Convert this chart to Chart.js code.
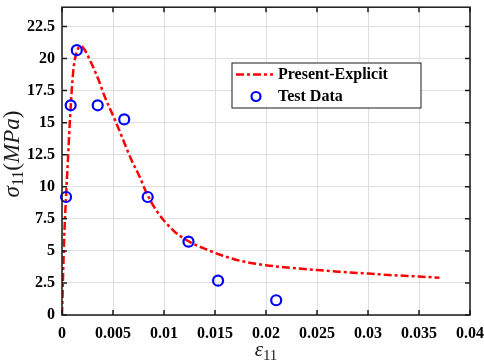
<!DOCTYPE html>
<html>
<head>
<meta charset="utf-8">
<script src="https://cdn.jsdelivr.net/npm/chart.js@4.4.0/dist/chart.umd.min.js"></script>
<style>
  html, body { margin: 0; padding: 0; background: #fff; }
  #wrap { width: 484px; height: 362px; }
</style>
</head>
<body>
<div id="wrap"><canvas id="stressChart"></canvas></div>
<script>
// Present-Explicit model curve (strain, stress in MPa)
const modelStrain = [0, 0.0001, 0.0002, 0.0004, 0.0006, 0.0008, 0.0011, 0.0014, 0.0017, 0.0019,
  0.0022, 0.0026, 0.0031, 0.0036, 0.0042, 0.0052, 0.006, 0.0068, 0.0076, 0.0083,
  0.0093, 0.0109, 0.0124, 0.0142, 0.0158, 0.0176, 0.02, 0.0225, 0.025, 0.0275,
  0.03, 0.0325, 0.035, 0.037];
const modelStress = [0, 2.9, 5.7, 9.3, 12.4, 15.5, 19.0, 20.4, 20.9, 20.95,
  20.7, 20.1, 19.25, 18.3, 17.0, 15.2, 13.65, 12.1, 10.8, 9.5,
  8.1, 6.6, 5.75, 5.1, 4.62, 4.2, 3.88, 3.67, 3.5, 3.36,
  3.23, 3.1, 3.0, 2.9];

// Test data
const testStrain = [0.0004, 0.00085, 0.00145, 0.0035, 0.0061, 0.0084, 0.0124, 0.0153, 0.021];
const testStress = [9.2, 16.35, 20.65, 16.35, 15.25, 9.2, 5.72, 2.68, 1.15];

const xTicks = [0, 0.005, 0.01, 0.015, 0.02, 0.025, 0.03, 0.035, 0.04];
const yTicks = [0, 2.5, 5, 7.5, 10, 12.5, 15, 17.5, 20, 22.5];

const seriesLabels = ["Present-Explicit", "Test Data"];

const serif = "'Liberation Serif', 'Times New Roman', serif";
const tickFont = { family: serif, size: 16, weight: "bold" };

function fmt(v) {
  return String(+v.toFixed(4));
}

// box around the plot with inward tick marks on all four sides
const framePlugin = {
  id: "frame",
  afterDatasetsDraw(chart) {
    const { ctx, chartArea: a, scales } = chart;
    ctx.save();
    ctx.strokeStyle = "#1a1a1a";
    ctx.lineWidth = 1.5;
    ctx.strokeRect(a.left, a.top, a.right - a.left, a.bottom - a.top);
    ctx.beginPath();
    const len = 5;
    xTicks.forEach((v) => {
      const px = scales.x.getPixelForValue(v);
      ctx.moveTo(px, a.bottom); ctx.lineTo(px, a.bottom - len);
      ctx.moveTo(px, a.top); ctx.lineTo(px, a.top + len);
    });
    yTicks.forEach((v) => {
      const py = scales.y.getPixelForValue(v);
      ctx.moveTo(a.left, py); ctx.lineTo(a.left + len, py);
      ctx.moveTo(a.right, py); ctx.lineTo(a.right - len, py);
    });
    ctx.stroke();
    ctx.restore();
  },
};

// axis titles with subscripts and the boxed legend
const labelPlugin = {
  id: "labels",
  afterDraw(chart) {
    const { ctx, chartArea: a } = chart;
    ctx.save();
    ctx.fillStyle = "#1a1a1a";
    ctx.textBaseline = "alphabetic";

    // x title: epsilon_11
    ctx.font = "italic 21px " + serif;
    const wEps = ctx.measureText("\u03b5").width;
    ctx.font = "15px " + serif;
    const wSub = ctx.measureText("11").width;
    let x0 = (a.left + a.right) / 2 - (wEps + wSub) / 2;
    ctx.font = "italic 21px " + serif;
    ctx.fillText("\u03b5", x0, 356);
    ctx.font = "15px " + serif;
    ctx.fillText("11", x0 + wEps, 360);

    // y title: sigma_11 (MPa)
    const parts = [
      { t: "\u03c3", f: "italic 23px ", dy: 0 },
      { t: "11", f: "16px ", dy: 4 },
      { t: "(", f: "23px ", dy: 0 },
      { t: "MPa", f: "italic 23px ", dy: 0 },
      { t: ")", f: "23px ", dy: 0 },
    ];
    let total = 0;
    parts.forEach((p) => { ctx.font = p.f + serif; p.w = ctx.measureText(p.t).width; total += p.w; });
    ctx.translate(19, 154);
    ctx.rotate(-Math.PI / 2);
    let cx = -total / 2;
    parts.forEach((p) => {
      ctx.font = p.f + serif;
      ctx.fillText(p.t, cx, p.dy);
      cx += p.w;
    });
    ctx.setTransform(1, 0, 0, 1, 0, 0);

    // legend
    const bx = 232, by = 63, bw = 189, bh = 45;
    ctx.fillStyle = "#fff";
    ctx.fillRect(bx, by, bw, bh);
    ctx.strokeStyle = "#1a1a1a";
    ctx.lineWidth = 1;
    ctx.strokeRect(bx, by, bw, bh);

    ctx.strokeStyle = "#ff0000";
    ctx.lineWidth = 2.5;
    ctx.setLineDash([8, 3, 3, 3]);
    ctx.beginPath();
    ctx.moveTo(bx + 4, by + 11.5);
    ctx.lineTo(bx + 41, by + 11.5);
    ctx.stroke();
    ctx.setLineDash([]);

    ctx.strokeStyle = "#0000ff";
    ctx.lineWidth = 2.2;
    ctx.beginPath();
    ctx.arc(bx + 24, by + 33.5, 4.5, 0, Math.PI * 2);
    ctx.stroke();

    ctx.fillStyle = "#000";
    ctx.font = "bold 16px " + serif;
    ctx.textBaseline = "middle";
    ctx.fillText(seriesLabels[0], bx + 46, by + 12);
    ctx.fillText(seriesLabels[1], bx + 46, by + 34);
    ctx.restore();
  },
};

const ctx = document.getElementById("stressChart");

new Chart(ctx, {
  type: "scatter",
  data: {
    datasets: [
      {
        label: seriesLabels[0],
        data: modelStrain.map((x, i) => ({ x: x, y: modelStress[i] })),
        showLine: true,
        borderColor: "#ff0000",
        borderWidth: 2.5,
        borderDash: [8, 3, 3, 3],
        cubicInterpolationMode: "monotone",
        pointRadius: 0,
        fill: false,
        order: 2,
      },
      {
        label: seriesLabels[1],
        data: testStrain.map((x, i) => ({ x: x, y: testStress[i] })),
        showLine: false,
        pointRadius: 5,
        pointBorderWidth: 2.2,
        pointBorderColor: "#0000ff",
        pointBackgroundColor: "rgba(0,0,0,0)",
        clip: false,
        order: 1,
      },
    ],
  },
  options: {
    responsive: true,
    maintainAspectRatio: false,
    animation: false,
    layout: { padding: { left: 0, top: 1, right: 14, bottom: 0 } },
    plugins: {
      legend: { display: false },
      tooltip: { enabled: false },
    },
    scales: {
      x: {
        type: "linear",
        min: 0,
        max: 0.04,
        afterBuildTicks: (axis) => { axis.ticks = xTicks.map((v) => ({ value: v })); },
        afterFit: (axis) => { axis.height = 47; axis.paddingLeft = 0; axis.paddingRight = 0; },
        border: { display: false },
        grid: { color: "#dedede", lineWidth: 1, drawTicks: false },
        ticks: {
          color: "#000",
          font: tickFont,
          padding: 9,
          maxRotation: 0,
          callback: (v) => fmt(v),
        },
      },
      y: {
        type: "linear",
        min: 0,
        max: 24,
        afterBuildTicks: (axis) => { axis.ticks = yTicks.map((v) => ({ value: v })); },
        afterFit: (axis) => { axis.width = 62; axis.paddingTop = 0; axis.paddingBottom = 0; },
        border: { display: false },
        grid: { color: "#dedede", lineWidth: 1, drawTicks: false },
        ticks: {
          color: "#000",
          font: tickFont,
          padding: 7,
          callback: (v) => fmt(v),
        },
      },
    },
  },
  plugins: [framePlugin, labelPlugin],
});
</script>
</body>
</html>
